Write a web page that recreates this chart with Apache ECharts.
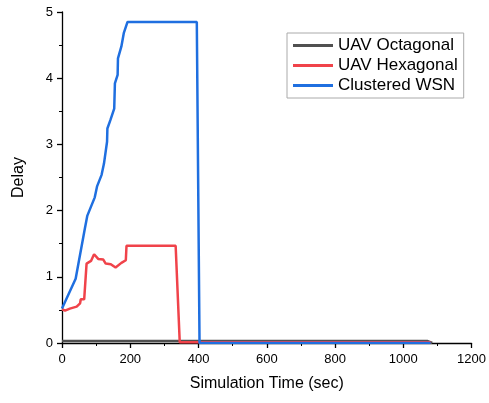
<!DOCTYPE html>
<html>
<head>
<meta charset="utf-8">
<script src="https://cdn.jsdelivr.net/npm/echarts@6/dist/echarts.min.js"></script>
<style>html,body{margin:0;padding:0;background:#fff}#c{width:489px;height:403px}</style>
</head>
<body>
<div id="c"></div>
<script>
var seriesNames = ['UAV Octagonal', 'UAV Hexagonal', 'Clustered WSN'];
var octX = [0, 1070, 1085];
var octY = [0.03, 0.03, 0.0];
var hexX = [0, 9, 23, 43, 53, 55, 65, 72, 85, 94, 106, 121, 128, 143, 157, 174, 187, 189, 333, 345, 1080];
var hexY = [0.51, 0.49, 0.52, 0.55, 0.6, 0.66, 0.66, 1.2, 1.24, 1.34, 1.27, 1.26, 1.2, 1.19, 1.14, 1.21, 1.25, 1.47, 1.47, 0.01, 0.01];
var wsnX = [0, 40, 67, 74, 96, 103, 116, 123, 132, 133, 142, 153, 155, 163, 164, 174, 181, 192, 395, 403, 1080];
var wsnY = [0.52, 0.97, 1.73, 1.92, 2.2, 2.37, 2.54, 2.71, 3.04, 3.24, 3.37, 3.54, 3.92, 4.05, 4.3, 4.48, 4.68, 4.85, 4.85, 0.0, 0.0];
var colors = ['#505050', '#f0434a', '#1f6fe0'];

function zip(xs, ys) { return xs.map(function (x, i) { return [x, ys[i]]; }); }

var chart = echarts.init(document.getElementById('c'));
var font = 'Arial, "Liberation Sans", sans-serif';
function axisCommon(margin) {
  return {
    axisLine: { show: true, lineStyle: { color: '#000', width: 1.3 } },
    axisTick: { show: true, inside: false, length: 5, lineStyle: { color: '#000', width: 1.3 } },
    minorTick: { show: true, splitNumber: 2, length: 3, lineStyle: { color: '#000', width: 1 } },
    splitLine: { show: false },
    axisLabel: { color: '#000', fontSize: 13, fontFamily: font, margin: margin, formatter: function (v) { return String(v); } }
  };
}
chart.setOption({
  animation: false,
  backgroundColor: '#fff',
  grid: { left: 62, right: 16, top: 12, bottom: 60, containLabel: false },
  legend: {
    orient: 'vertical',
    left: 287, top: 33,
    padding: [4, 6, 4, 6],
    itemGap: 3,
    icon: 'rect',
    itemWidth: 40, itemHeight: 3,
    borderColor: '#aaa', borderWidth: 1,
    textStyle: { fontSize: 17, fontFamily: font, color: '#000' },
    data: seriesNames
  },
  xAxis: Object.assign({
    type: 'value', min: 0, max: 1200, interval: 200,
    name: 'Simulation Time (sec)', nameLocation: 'middle', nameGap: 33,
    nameTextStyle: { fontSize: 16, fontFamily: font, color: '#000' }
  }, axisCommon(10)),
  yAxis: Object.assign({
    type: 'value', min: 0, max: 5, interval: 1,
    name: 'Delay', nameLocation: 'middle', nameGap: 35,
    nameTextStyle: { fontSize: 16, fontFamily: font, color: '#000' }
  }, axisCommon(9)),
  series: [
    { name: seriesNames[0], type: 'line', data: zip(octX, octY), showSymbol: false, symbol: 'none', color: colors[0], lineStyle: { width: 2.5, color: colors[0] }, z: 2 },
    { name: seriesNames[1], type: 'line', data: zip(hexX, hexY), showSymbol: false, symbol: 'none', color: colors[1], lineStyle: { width: 2.5, color: colors[1] }, z: 3 },
    { name: seriesNames[2], type: 'line', data: zip(wsnX, wsnY), showSymbol: false, symbol: 'none', color: colors[2], lineStyle: { width: 2.5, color: colors[2] }, z: 4 }
  ]
});
</script>
</body>
</html>
